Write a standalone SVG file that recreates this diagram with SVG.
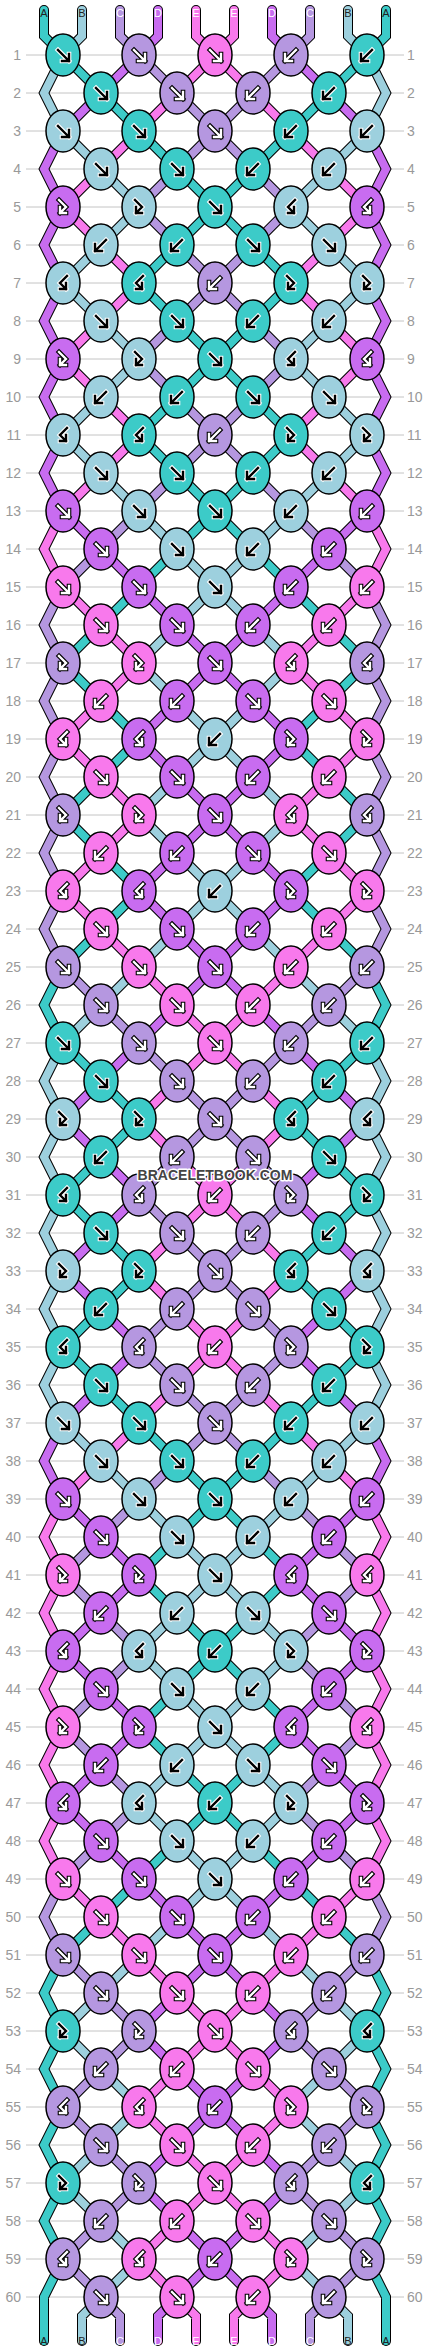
<svg xmlns="http://www.w3.org/2000/svg" width="430" height="2352" viewBox="0 0 430 2352">
<style>
.A{fill:#3ccbc8}.B{fill:#9dd0de}.C{fill:#b597e0}.D{fill:#c86cf0}.E{fill:#f879ec}
ellipse{stroke:#000;stroke-width:1.5}
.ar{fill:none;stroke-linecap:square;stroke-linejoin:miter}
.ow{stroke:#fff;stroke-width:4.6}.ik{stroke:#000;stroke-width:2.4}
.ok{stroke:#000;stroke-width:4.6}.iw{stroke:#fff;stroke-width:2.4}
.grid{stroke:#c4c4c4;stroke-width:1;fill:none}
.num{font-family:"Liberation Sans",Arial,sans-serif;font-size:14px;fill:#999}
.lab{font-family:"Liberation Sans",Arial,sans-serif;font-size:11px;text-anchor:middle}
.st{fill:none;stroke-linejoin:miter;stroke-linecap:round}
</style>
<defs>
<path id="sA" d="M44 10V36L63 55L101 93L139 131L177 169L215 207L177 245L139 283L177 321L215 359L177 397L139 435L177 473L215 511L177 549L139 587L101 625L63 663L101 701L139 739L101 777L63 815L101 853L139 891L101 929L63 967L44 1005L63 1043L101 1081L139 1119L101 1157L63 1195L101 1233L139 1271L101 1309L63 1347L101 1385L139 1423L177 1461L215 1499L177 1537L139 1575L177 1613L215 1651L177 1689L139 1727L177 1765L215 1803L177 1841L139 1879L101 1917L63 1955L44 1993L63 2031L44 2069L63 2107L44 2145L63 2183L44 2221L63 2259L44 2297V2341"/>
<path id="sB" d="M82 10V36L63 55L44 93L63 131L101 169L139 207L101 245L63 283L101 321L139 359L101 397L63 435L101 473L139 511L177 549L215 587L177 625L139 663L177 701L215 739L177 777L139 815L177 853L215 891L177 929L139 967L101 1005L63 1043L44 1081L63 1119L44 1157L63 1195L44 1233L63 1271L44 1309L63 1347L44 1385L63 1423L101 1461L139 1499L177 1537L215 1575L177 1613L139 1651L177 1689L215 1727L177 1765L139 1803L177 1841L215 1879L177 1917L139 1955L101 1993L63 2031L101 2069L139 2107L101 2145L63 2183L101 2221L139 2259L101 2297L82 2316V2341"/>
<path id="sC" d="M120 10V36L139 55L177 93L215 131L177 169L139 207L177 245L215 283L177 321L139 359L177 397L215 435L177 473L139 511L101 549L63 587L44 625L63 663L44 701L63 739L44 777L63 815L44 853L63 891L44 929L63 967L101 1005L139 1043L177 1081L215 1119L177 1157L139 1195L177 1233L215 1271L177 1309L139 1347L177 1385L215 1423L177 1461L139 1499L101 1537L63 1575L101 1613L139 1651L101 1689L63 1727L101 1765L139 1803L101 1841L63 1879L44 1917L63 1955L101 1993L139 2031L101 2069L63 2107L101 2145L139 2183L101 2221L63 2259L101 2297L120 2316V2341"/>
<path id="sD" d="M158 10V36L139 55L101 93L63 131L44 169L63 207L44 245L63 283L44 321L63 359L44 397L63 435L44 473L63 511L101 549L139 587L177 625L215 663L177 701L139 739L177 777L215 815L177 853L139 891L177 929L215 967L177 1005L139 1043L101 1081L63 1119L101 1157L139 1195L101 1233L63 1271L101 1309L139 1347L101 1385L63 1423L44 1461L63 1499L101 1537L139 1575L101 1613L63 1651L101 1689L139 1727L101 1765L63 1803L101 1841L139 1879L177 1917L215 1955L177 1993L139 2031L177 2069L215 2107L177 2145L139 2183L177 2221L215 2259L177 2297L158 2316V2341"/>
<path id="sE" d="M196 10V36L215 55L177 93L139 131L101 169L63 207L101 245L139 283L101 321L63 359L101 397L139 435L101 473L63 511L44 549L63 587L101 625L139 663L101 701L63 739L101 777L139 815L101 853L63 891L101 929L139 967L177 1005L215 1043L177 1081L139 1119L177 1157L215 1195L177 1233L139 1271L177 1309L215 1347L177 1385L139 1423L101 1461L63 1499L44 1537L63 1575L44 1613L63 1651L44 1689L63 1727L44 1765L63 1803L44 1841L63 1879L101 1917L139 1955L177 1993L215 2031L177 2069L139 2107L177 2145L215 2183L177 2221L139 2259L177 2297L196 2316V2341"/>
<path id="pf" class="ar" d="M-5-5L6 6M6-1V6H-1"/>
<path id="pb" class="ar" d="M5-5L-6 6M-6-1V6H1"/>
<path id="pfb" class="ar" d="M-4-7L3 0L-3 6M-3 0V6H3"/>
<path id="pbf" class="ar" d="M4-7L-3 0L3 6M3 0V6H-3"/>
<g id="df"><use href="#pf" class="ow"/><use href="#pf" class="ik"/></g>
<g id="db"><use href="#pb" class="ow"/><use href="#pb" class="ik"/></g>
<g id="dfb"><use href="#pfb" class="ow"/><use href="#pfb" class="ik"/></g>
<g id="dbf"><use href="#pbf" class="ow"/><use href="#pbf" class="ik"/></g>
<g id="wf"><use href="#pf" class="ok"/><use href="#pf" class="iw"/></g>
<g id="wb"><use href="#pb" class="ok"/><use href="#pb" class="iw"/></g>
<g id="wfb"><use href="#pfb" class="ok"/><use href="#pfb" class="iw"/></g>
<g id="wbf"><use href="#pbf" class="ok"/><use href="#pbf" class="iw"/></g>
<g id="Af"><ellipse class="A" rx="17" ry="21"/><use href="#df"/></g>
<g id="Ab"><ellipse class="A" rx="17" ry="21"/><use href="#db"/></g>
<g id="Afb"><ellipse class="A" rx="17" ry="21"/><use href="#dfb"/></g>
<g id="Abf"><ellipse class="A" rx="17" ry="21"/><use href="#dbf"/></g>
<g id="Bf"><ellipse class="B" rx="17" ry="21"/><use href="#df"/></g>
<g id="Bb"><ellipse class="B" rx="17" ry="21"/><use href="#db"/></g>
<g id="Bfb"><ellipse class="B" rx="17" ry="21"/><use href="#dfb"/></g>
<g id="Bbf"><ellipse class="B" rx="17" ry="21"/><use href="#dbf"/></g>
<g id="Cf"><ellipse class="C" rx="17" ry="21"/><use href="#wf"/></g>
<g id="Cb"><ellipse class="C" rx="17" ry="21"/><use href="#wb"/></g>
<g id="Cfb"><ellipse class="C" rx="17" ry="21"/><use href="#wfb"/></g>
<g id="Cbf"><ellipse class="C" rx="17" ry="21"/><use href="#wbf"/></g>
<g id="Df"><ellipse class="D" rx="17" ry="21"/><use href="#wf"/></g>
<g id="Db"><ellipse class="D" rx="17" ry="21"/><use href="#wb"/></g>
<g id="Dfb"><ellipse class="D" rx="17" ry="21"/><use href="#wfb"/></g>
<g id="Dbf"><ellipse class="D" rx="17" ry="21"/><use href="#wbf"/></g>
<g id="Ef"><ellipse class="E" rx="17" ry="21"/><use href="#wf"/></g>
<g id="Eb"><ellipse class="E" rx="17" ry="21"/><use href="#wb"/></g>
<g id="Efb"><ellipse class="E" rx="17" ry="21"/><use href="#wfb"/></g>
<g id="Ebf"><ellipse class="E" rx="17" ry="21"/><use href="#wbf"/></g>
</defs>
<rect width="430" height="2352" fill="#fff"/>
<path class="grid" d="M26 55H404M26 93H404M26 131H404M26 169H404M26 207H404M26 245H404M26 283H404M26 321H404M26 359H404M26 397H404M26 435H404M26 473H404M26 511H404M26 549H404M26 587H404M26 625H404M26 663H404M26 701H404M26 739H404M26 777H404M26 815H404M26 853H404M26 891H404M26 929H404M26 967H404M26 1005H404M26 1043H404M26 1081H404M26 1119H404M26 1157H404M26 1195H404M26 1233H404M26 1271H404M26 1309H404M26 1347H404M26 1385H404M26 1423H404M26 1461H404M26 1499H404M26 1537H404M26 1575H404M26 1613H404M26 1651H404M26 1689H404M26 1727H404M26 1765H404M26 1803H404M26 1841H404M26 1879H404M26 1917H404M26 1955H404M26 1993H404M26 2031H404M26 2069H404M26 2107H404M26 2145H404M26 2183H404M26 2221H404M26 2259H404M26 2297H404"/>
<g class="num" text-anchor="end">
<text x="21" y="60">1</text><text x="21" y="98">2</text><text x="21" y="136">3</text><text x="21" y="174">4</text><text x="21" y="212">5</text><text x="21" y="250">6</text><text x="21" y="288">7</text><text x="21" y="326">8</text><text x="21" y="364">9</text><text x="21" y="402">10</text><text x="21" y="440">11</text><text x="21" y="478">12</text><text x="21" y="516">13</text><text x="21" y="554">14</text><text x="21" y="592">15</text><text x="21" y="630">16</text><text x="21" y="668">17</text><text x="21" y="706">18</text><text x="21" y="744">19</text><text x="21" y="782">20</text><text x="21" y="820">21</text><text x="21" y="858">22</text><text x="21" y="896">23</text><text x="21" y="934">24</text><text x="21" y="972">25</text><text x="21" y="1010">26</text><text x="21" y="1048">27</text><text x="21" y="1086">28</text><text x="21" y="1124">29</text><text x="21" y="1162">30</text><text x="21" y="1200">31</text><text x="21" y="1238">32</text><text x="21" y="1276">33</text><text x="21" y="1314">34</text><text x="21" y="1352">35</text><text x="21" y="1390">36</text><text x="21" y="1428">37</text><text x="21" y="1466">38</text><text x="21" y="1504">39</text><text x="21" y="1542">40</text><text x="21" y="1580">41</text><text x="21" y="1618">42</text><text x="21" y="1656">43</text><text x="21" y="1694">44</text><text x="21" y="1732">45</text><text x="21" y="1770">46</text><text x="21" y="1808">47</text><text x="21" y="1846">48</text><text x="21" y="1884">49</text><text x="21" y="1922">50</text><text x="21" y="1960">51</text><text x="21" y="1998">52</text><text x="21" y="2036">53</text><text x="21" y="2074">54</text><text x="21" y="2112">55</text><text x="21" y="2150">56</text><text x="21" y="2188">57</text><text x="21" y="2226">58</text><text x="21" y="2264">59</text><text x="21" y="2302">60</text>
</g>
<g class="num" text-anchor="start">
<text x="407" y="60">1</text><text x="407" y="98">2</text><text x="407" y="136">3</text><text x="407" y="174">4</text><text x="407" y="212">5</text><text x="407" y="250">6</text><text x="407" y="288">7</text><text x="407" y="326">8</text><text x="407" y="364">9</text><text x="407" y="402">10</text><text x="407" y="440">11</text><text x="407" y="478">12</text><text x="407" y="516">13</text><text x="407" y="554">14</text><text x="407" y="592">15</text><text x="407" y="630">16</text><text x="407" y="668">17</text><text x="407" y="706">18</text><text x="407" y="744">19</text><text x="407" y="782">20</text><text x="407" y="820">21</text><text x="407" y="858">22</text><text x="407" y="896">23</text><text x="407" y="934">24</text><text x="407" y="972">25</text><text x="407" y="1010">26</text><text x="407" y="1048">27</text><text x="407" y="1086">28</text><text x="407" y="1124">29</text><text x="407" y="1162">30</text><text x="407" y="1200">31</text><text x="407" y="1238">32</text><text x="407" y="1276">33</text><text x="407" y="1314">34</text><text x="407" y="1352">35</text><text x="407" y="1390">36</text><text x="407" y="1428">37</text><text x="407" y="1466">38</text><text x="407" y="1504">39</text><text x="407" y="1542">40</text><text x="407" y="1580">41</text><text x="407" y="1618">42</text><text x="407" y="1656">43</text><text x="407" y="1694">44</text><text x="407" y="1732">45</text><text x="407" y="1770">46</text><text x="407" y="1808">47</text><text x="407" y="1846">48</text><text x="407" y="1884">49</text><text x="407" y="1922">50</text><text x="407" y="1960">51</text><text x="407" y="1998">52</text><text x="407" y="2036">53</text><text x="407" y="2074">54</text><text x="407" y="2112">55</text><text x="407" y="2150">56</text><text x="407" y="2188">57</text><text x="407" y="2226">58</text><text x="407" y="2264">59</text><text x="407" y="2302">60</text>
</g>
<g id="connectors" class="st">
<g stroke="#000" stroke-width="10">
<use href="#sA"/><use href="#sB"/><use href="#sC"/><use href="#sD"/><use href="#sE"/>
<g transform="matrix(-1 0 0 1 430 0)"><use href="#sA"/><use href="#sB"/><use href="#sC"/><use href="#sD"/><use href="#sE"/></g>
</g>
<g stroke-width="8">
<use href="#sA" stroke="#3ccbc8"/><use href="#sB" stroke="#9dd0de"/><use href="#sC" stroke="#b597e0"/><use href="#sD" stroke="#c86cf0"/><use href="#sE" stroke="#f879ec"/>
<g transform="matrix(-1 0 0 1 430 0)"><use href="#sA" stroke="#3ccbc8"/><use href="#sB" stroke="#9dd0de"/><use href="#sC" stroke="#b597e0"/><use href="#sD" stroke="#c86cf0"/><use href="#sE" stroke="#f879ec"/></g>
</g>
</g>
<g class="lab">
<text x="44" y="17" fill="#222">A</text><text x="82" y="17" fill="#222">B</text><text x="120" y="17" fill="#fff">C</text><text x="158" y="17" fill="#fff">D</text><text x="196" y="17" fill="#fff">E</text><text x="234" y="17" fill="#fff">E</text><text x="272" y="17" fill="#fff">D</text><text x="310" y="17" fill="#fff">C</text><text x="348" y="17" fill="#222">B</text><text x="386" y="17" fill="#222">A</text>
<text x="44" y="2345" fill="#222">A</text><text x="82" y="2345" fill="#222">B</text><text x="120" y="2345" fill="#fff">C</text><text x="158" y="2345" fill="#fff">D</text><text x="196" y="2345" fill="#fff">E</text><text x="234" y="2345" fill="#fff">E</text><text x="272" y="2345" fill="#fff">D</text><text x="310" y="2345" fill="#fff">C</text><text x="348" y="2345" fill="#222">B</text><text x="386" y="2345" fill="#222">A</text>
</g>
<g id="knots">
<g id="n1-1"><use href="#Af" x="63" y="55"/></g><g id="n1-2"><use href="#Cf" x="139" y="55"/></g><g id="n1-3"><use href="#Ef" x="215" y="55"/></g><g id="n1-4"><use href="#Cb" x="291" y="55"/></g><g id="n1-5"><use href="#Ab" x="367" y="55"/></g>
<g id="n2-1"><use href="#Af" x="101" y="93"/></g><g id="n2-2"><use href="#Cf" x="177" y="93"/></g><g id="n2-3"><use href="#Cb" x="253" y="93"/></g><g id="n2-4"><use href="#Ab" x="329" y="93"/></g>
<g id="n3-1"><use href="#Bf" x="63" y="131"/></g><g id="n3-2"><use href="#Af" x="139" y="131"/></g><g id="n3-3"><use href="#Cf" x="215" y="131"/></g><g id="n3-4"><use href="#Ab" x="291" y="131"/></g><g id="n3-5"><use href="#Bb" x="367" y="131"/></g>
<g id="n4-1"><use href="#Bf" x="101" y="169"/></g><g id="n4-2"><use href="#Af" x="177" y="169"/></g><g id="n4-3"><use href="#Ab" x="253" y="169"/></g><g id="n4-4"><use href="#Bb" x="329" y="169"/></g>
<g id="n5-1"><use href="#Dfb" x="63" y="207"/></g><g id="n5-2"><use href="#Bfb" x="139" y="207"/></g><g id="n5-3"><use href="#Af" x="215" y="207"/></g><g id="n5-4"><use href="#Bbf" x="291" y="207"/></g><g id="n5-5"><use href="#Dbf" x="367" y="207"/></g>
<g id="n6-1"><use href="#Bb" x="101" y="245"/></g><g id="n6-2"><use href="#Ab" x="177" y="245"/></g><g id="n6-3"><use href="#Af" x="253" y="245"/></g><g id="n6-4"><use href="#Bf" x="329" y="245"/></g>
<g id="n7-1"><use href="#Bbf" x="63" y="283"/></g><g id="n7-2"><use href="#Abf" x="139" y="283"/></g><g id="n7-3"><use href="#Cb" x="215" y="283"/></g><g id="n7-4"><use href="#Afb" x="291" y="283"/></g><g id="n7-5"><use href="#Bfb" x="367" y="283"/></g>
<g id="n8-1"><use href="#Bf" x="101" y="321"/></g><g id="n8-2"><use href="#Af" x="177" y="321"/></g><g id="n8-3"><use href="#Ab" x="253" y="321"/></g><g id="n8-4"><use href="#Bb" x="329" y="321"/></g>
<g id="n9-1"><use href="#Dfb" x="63" y="359"/></g><g id="n9-2"><use href="#Bfb" x="139" y="359"/></g><g id="n9-3"><use href="#Af" x="215" y="359"/></g><g id="n9-4"><use href="#Bbf" x="291" y="359"/></g><g id="n9-5"><use href="#Dbf" x="367" y="359"/></g>
<g id="n10-1"><use href="#Bb" x="101" y="397"/></g><g id="n10-2"><use href="#Ab" x="177" y="397"/></g><g id="n10-3"><use href="#Af" x="253" y="397"/></g><g id="n10-4"><use href="#Bf" x="329" y="397"/></g>
<g id="n11-1"><use href="#Bbf" x="63" y="435"/></g><g id="n11-2"><use href="#Abf" x="139" y="435"/></g><g id="n11-3"><use href="#Cb" x="215" y="435"/></g><g id="n11-4"><use href="#Afb" x="291" y="435"/></g><g id="n11-5"><use href="#Bfb" x="367" y="435"/></g>
<g id="n12-1"><use href="#Bf" x="101" y="473"/></g><g id="n12-2"><use href="#Af" x="177" y="473"/></g><g id="n12-3"><use href="#Ab" x="253" y="473"/></g><g id="n12-4"><use href="#Bb" x="329" y="473"/></g>
<g id="n13-1"><use href="#Df" x="63" y="511"/></g><g id="n13-2"><use href="#Bf" x="139" y="511"/></g><g id="n13-3"><use href="#Af" x="215" y="511"/></g><g id="n13-4"><use href="#Bb" x="291" y="511"/></g><g id="n13-5"><use href="#Db" x="367" y="511"/></g>
<g id="n14-1"><use href="#Df" x="101" y="549"/></g><g id="n14-2"><use href="#Bf" x="177" y="549"/></g><g id="n14-3"><use href="#Bb" x="253" y="549"/></g><g id="n14-4"><use href="#Db" x="329" y="549"/></g>
<g id="n15-1"><use href="#Ef" x="63" y="587"/></g><g id="n15-2"><use href="#Df" x="139" y="587"/></g><g id="n15-3"><use href="#Bf" x="215" y="587"/></g><g id="n15-4"><use href="#Db" x="291" y="587"/></g><g id="n15-5"><use href="#Eb" x="367" y="587"/></g>
<g id="n16-1"><use href="#Ef" x="101" y="625"/></g><g id="n16-2"><use href="#Df" x="177" y="625"/></g><g id="n16-3"><use href="#Db" x="253" y="625"/></g><g id="n16-4"><use href="#Eb" x="329" y="625"/></g>
<g id="n17-1"><use href="#Cfb" x="63" y="663"/></g><g id="n17-2"><use href="#Efb" x="139" y="663"/></g><g id="n17-3"><use href="#Df" x="215" y="663"/></g><g id="n17-4"><use href="#Ebf" x="291" y="663"/></g><g id="n17-5"><use href="#Cbf" x="367" y="663"/></g>
<g id="n18-1"><use href="#Eb" x="101" y="701"/></g><g id="n18-2"><use href="#Db" x="177" y="701"/></g><g id="n18-3"><use href="#Df" x="253" y="701"/></g><g id="n18-4"><use href="#Ef" x="329" y="701"/></g>
<g id="n19-1"><use href="#Ebf" x="63" y="739"/></g><g id="n19-2"><use href="#Dbf" x="139" y="739"/></g><g id="n19-3"><use href="#Bb" x="215" y="739"/></g><g id="n19-4"><use href="#Dfb" x="291" y="739"/></g><g id="n19-5"><use href="#Efb" x="367" y="739"/></g>
<g id="n20-1"><use href="#Ef" x="101" y="777"/></g><g id="n20-2"><use href="#Df" x="177" y="777"/></g><g id="n20-3"><use href="#Db" x="253" y="777"/></g><g id="n20-4"><use href="#Eb" x="329" y="777"/></g>
<g id="n21-1"><use href="#Cfb" x="63" y="815"/></g><g id="n21-2"><use href="#Efb" x="139" y="815"/></g><g id="n21-3"><use href="#Df" x="215" y="815"/></g><g id="n21-4"><use href="#Ebf" x="291" y="815"/></g><g id="n21-5"><use href="#Cbf" x="367" y="815"/></g>
<g id="n22-1"><use href="#Eb" x="101" y="853"/></g><g id="n22-2"><use href="#Db" x="177" y="853"/></g><g id="n22-3"><use href="#Df" x="253" y="853"/></g><g id="n22-4"><use href="#Ef" x="329" y="853"/></g>
<g id="n23-1"><use href="#Ebf" x="63" y="891"/></g><g id="n23-2"><use href="#Dbf" x="139" y="891"/></g><g id="n23-3"><use href="#Bb" x="215" y="891"/></g><g id="n23-4"><use href="#Dfb" x="291" y="891"/></g><g id="n23-5"><use href="#Efb" x="367" y="891"/></g>
<g id="n24-1"><use href="#Ef" x="101" y="929"/></g><g id="n24-2"><use href="#Df" x="177" y="929"/></g><g id="n24-3"><use href="#Db" x="253" y="929"/></g><g id="n24-4"><use href="#Eb" x="329" y="929"/></g>
<g id="n25-1"><use href="#Cf" x="63" y="967"/></g><g id="n25-2"><use href="#Ef" x="139" y="967"/></g><g id="n25-3"><use href="#Df" x="215" y="967"/></g><g id="n25-4"><use href="#Eb" x="291" y="967"/></g><g id="n25-5"><use href="#Cb" x="367" y="967"/></g>
<g id="n26-1"><use href="#Cf" x="101" y="1005"/></g><g id="n26-2"><use href="#Ef" x="177" y="1005"/></g><g id="n26-3"><use href="#Eb" x="253" y="1005"/></g><g id="n26-4"><use href="#Cb" x="329" y="1005"/></g>
<g id="n27-1"><use href="#Af" x="63" y="1043"/></g><g id="n27-2"><use href="#Cf" x="139" y="1043"/></g><g id="n27-3"><use href="#Ef" x="215" y="1043"/></g><g id="n27-4"><use href="#Cb" x="291" y="1043"/></g><g id="n27-5"><use href="#Ab" x="367" y="1043"/></g>
<g id="n28-1"><use href="#Af" x="101" y="1081"/></g><g id="n28-2"><use href="#Cf" x="177" y="1081"/></g><g id="n28-3"><use href="#Cb" x="253" y="1081"/></g><g id="n28-4"><use href="#Ab" x="329" y="1081"/></g>
<g id="n29-1"><use href="#Bfb" x="63" y="1119"/></g><g id="n29-2"><use href="#Afb" x="139" y="1119"/></g><g id="n29-3"><use href="#Cf" x="215" y="1119"/></g><g id="n29-4"><use href="#Abf" x="291" y="1119"/></g><g id="n29-5"><use href="#Bbf" x="367" y="1119"/></g>
<g id="n30-1"><use href="#Ab" x="101" y="1157"/></g><g id="n30-2"><use href="#Cb" x="177" y="1157"/></g><g id="n30-3"><use href="#Cf" x="253" y="1157"/></g><g id="n30-4"><use href="#Af" x="329" y="1157"/></g>
<g id="n31-1"><use href="#Abf" x="63" y="1195"/></g><g id="n31-2"><use href="#Cbf" x="139" y="1195"/></g><g id="n31-3"><use href="#Eb" x="215" y="1195"/></g><g id="n31-4"><use href="#Cfb" x="291" y="1195"/></g><g id="n31-5"><use href="#Afb" x="367" y="1195"/></g>
<g id="n32-1"><use href="#Af" x="101" y="1233"/></g><g id="n32-2"><use href="#Cf" x="177" y="1233"/></g><g id="n32-3"><use href="#Cb" x="253" y="1233"/></g><g id="n32-4"><use href="#Ab" x="329" y="1233"/></g>
<g id="n33-1"><use href="#Bfb" x="63" y="1271"/></g><g id="n33-2"><use href="#Afb" x="139" y="1271"/></g><g id="n33-3"><use href="#Cf" x="215" y="1271"/></g><g id="n33-4"><use href="#Abf" x="291" y="1271"/></g><g id="n33-5"><use href="#Bbf" x="367" y="1271"/></g>
<g id="n34-1"><use href="#Ab" x="101" y="1309"/></g><g id="n34-2"><use href="#Cb" x="177" y="1309"/></g><g id="n34-3"><use href="#Cf" x="253" y="1309"/></g><g id="n34-4"><use href="#Af" x="329" y="1309"/></g>
<g id="n35-1"><use href="#Abf" x="63" y="1347"/></g><g id="n35-2"><use href="#Cbf" x="139" y="1347"/></g><g id="n35-3"><use href="#Eb" x="215" y="1347"/></g><g id="n35-4"><use href="#Cfb" x="291" y="1347"/></g><g id="n35-5"><use href="#Afb" x="367" y="1347"/></g>
<g id="n36-1"><use href="#Af" x="101" y="1385"/></g><g id="n36-2"><use href="#Cf" x="177" y="1385"/></g><g id="n36-3"><use href="#Cb" x="253" y="1385"/></g><g id="n36-4"><use href="#Ab" x="329" y="1385"/></g>
<g id="n37-1"><use href="#Bf" x="63" y="1423"/></g><g id="n37-2"><use href="#Af" x="139" y="1423"/></g><g id="n37-3"><use href="#Cf" x="215" y="1423"/></g><g id="n37-4"><use href="#Ab" x="291" y="1423"/></g><g id="n37-5"><use href="#Bb" x="367" y="1423"/></g>
<g id="n38-1"><use href="#Bf" x="101" y="1461"/></g><g id="n38-2"><use href="#Af" x="177" y="1461"/></g><g id="n38-3"><use href="#Ab" x="253" y="1461"/></g><g id="n38-4"><use href="#Bb" x="329" y="1461"/></g>
<g id="n39-1"><use href="#Df" x="63" y="1499"/></g><g id="n39-2"><use href="#Bf" x="139" y="1499"/></g><g id="n39-3"><use href="#Af" x="215" y="1499"/></g><g id="n39-4"><use href="#Bb" x="291" y="1499"/></g><g id="n39-5"><use href="#Db" x="367" y="1499"/></g>
<g id="n40-1"><use href="#Df" x="101" y="1537"/></g><g id="n40-2"><use href="#Bf" x="177" y="1537"/></g><g id="n40-3"><use href="#Bb" x="253" y="1537"/></g><g id="n40-4"><use href="#Db" x="329" y="1537"/></g>
<g id="n41-1"><use href="#Efb" x="63" y="1575"/></g><g id="n41-2"><use href="#Dfb" x="139" y="1575"/></g><g id="n41-3"><use href="#Bf" x="215" y="1575"/></g><g id="n41-4"><use href="#Dbf" x="291" y="1575"/></g><g id="n41-5"><use href="#Ebf" x="367" y="1575"/></g>
<g id="n42-1"><use href="#Db" x="101" y="1613"/></g><g id="n42-2"><use href="#Bb" x="177" y="1613"/></g><g id="n42-3"><use href="#Bf" x="253" y="1613"/></g><g id="n42-4"><use href="#Df" x="329" y="1613"/></g>
<g id="n43-1"><use href="#Dbf" x="63" y="1651"/></g><g id="n43-2"><use href="#Bbf" x="139" y="1651"/></g><g id="n43-3"><use href="#Ab" x="215" y="1651"/></g><g id="n43-4"><use href="#Bfb" x="291" y="1651"/></g><g id="n43-5"><use href="#Dfb" x="367" y="1651"/></g>
<g id="n44-1"><use href="#Df" x="101" y="1689"/></g><g id="n44-2"><use href="#Bf" x="177" y="1689"/></g><g id="n44-3"><use href="#Bb" x="253" y="1689"/></g><g id="n44-4"><use href="#Db" x="329" y="1689"/></g>
<g id="n45-1"><use href="#Efb" x="63" y="1727"/></g><g id="n45-2"><use href="#Dfb" x="139" y="1727"/></g><g id="n45-3"><use href="#Bf" x="215" y="1727"/></g><g id="n45-4"><use href="#Dbf" x="291" y="1727"/></g><g id="n45-5"><use href="#Ebf" x="367" y="1727"/></g>
<g id="n46-1"><use href="#Db" x="101" y="1765"/></g><g id="n46-2"><use href="#Bb" x="177" y="1765"/></g><g id="n46-3"><use href="#Bf" x="253" y="1765"/></g><g id="n46-4"><use href="#Df" x="329" y="1765"/></g>
<g id="n47-1"><use href="#Dbf" x="63" y="1803"/></g><g id="n47-2"><use href="#Bbf" x="139" y="1803"/></g><g id="n47-3"><use href="#Ab" x="215" y="1803"/></g><g id="n47-4"><use href="#Bfb" x="291" y="1803"/></g><g id="n47-5"><use href="#Dfb" x="367" y="1803"/></g>
<g id="n48-1"><use href="#Df" x="101" y="1841"/></g><g id="n48-2"><use href="#Bf" x="177" y="1841"/></g><g id="n48-3"><use href="#Bb" x="253" y="1841"/></g><g id="n48-4"><use href="#Db" x="329" y="1841"/></g>
<g id="n49-1"><use href="#Ef" x="63" y="1879"/></g><g id="n49-2"><use href="#Df" x="139" y="1879"/></g><g id="n49-3"><use href="#Bf" x="215" y="1879"/></g><g id="n49-4"><use href="#Db" x="291" y="1879"/></g><g id="n49-5"><use href="#Eb" x="367" y="1879"/></g>
<g id="n50-1"><use href="#Ef" x="101" y="1917"/></g><g id="n50-2"><use href="#Df" x="177" y="1917"/></g><g id="n50-3"><use href="#Db" x="253" y="1917"/></g><g id="n50-4"><use href="#Eb" x="329" y="1917"/></g>
<g id="n51-1"><use href="#Cf" x="63" y="1955"/></g><g id="n51-2"><use href="#Ef" x="139" y="1955"/></g><g id="n51-3"><use href="#Df" x="215" y="1955"/></g><g id="n51-4"><use href="#Eb" x="291" y="1955"/></g><g id="n51-5"><use href="#Cb" x="367" y="1955"/></g>
<g id="n52-1"><use href="#Cf" x="101" y="1993"/></g><g id="n52-2"><use href="#Ef" x="177" y="1993"/></g><g id="n52-3"><use href="#Eb" x="253" y="1993"/></g><g id="n52-4"><use href="#Cb" x="329" y="1993"/></g>
<g id="n53-1"><use href="#Afb" x="63" y="2031"/></g><g id="n53-2"><use href="#Cfb" x="139" y="2031"/></g><g id="n53-3"><use href="#Ef" x="215" y="2031"/></g><g id="n53-4"><use href="#Cbf" x="291" y="2031"/></g><g id="n53-5"><use href="#Abf" x="367" y="2031"/></g>
<g id="n54-1"><use href="#Cb" x="101" y="2069"/></g><g id="n54-2"><use href="#Eb" x="177" y="2069"/></g><g id="n54-3"><use href="#Ef" x="253" y="2069"/></g><g id="n54-4"><use href="#Cf" x="329" y="2069"/></g>
<g id="n55-1"><use href="#Cbf" x="63" y="2107"/></g><g id="n55-2"><use href="#Ebf" x="139" y="2107"/></g><g id="n55-3"><use href="#Db" x="215" y="2107"/></g><g id="n55-4"><use href="#Efb" x="291" y="2107"/></g><g id="n55-5"><use href="#Cfb" x="367" y="2107"/></g>
<g id="n56-1"><use href="#Cf" x="101" y="2145"/></g><g id="n56-2"><use href="#Ef" x="177" y="2145"/></g><g id="n56-3"><use href="#Eb" x="253" y="2145"/></g><g id="n56-4"><use href="#Cb" x="329" y="2145"/></g>
<g id="n57-1"><use href="#Afb" x="63" y="2183"/></g><g id="n57-2"><use href="#Cfb" x="139" y="2183"/></g><g id="n57-3"><use href="#Ef" x="215" y="2183"/></g><g id="n57-4"><use href="#Cbf" x="291" y="2183"/></g><g id="n57-5"><use href="#Abf" x="367" y="2183"/></g>
<g id="n58-1"><use href="#Cb" x="101" y="2221"/></g><g id="n58-2"><use href="#Eb" x="177" y="2221"/></g><g id="n58-3"><use href="#Ef" x="253" y="2221"/></g><g id="n58-4"><use href="#Cf" x="329" y="2221"/></g>
<g id="n59-1"><use href="#Cbf" x="63" y="2259"/></g><g id="n59-2"><use href="#Ebf" x="139" y="2259"/></g><g id="n59-3"><use href="#Db" x="215" y="2259"/></g><g id="n59-4"><use href="#Efb" x="291" y="2259"/></g><g id="n59-5"><use href="#Cfb" x="367" y="2259"/></g>
<g id="n60-1"><use href="#Cf" x="101" y="2297"/></g><g id="n60-2"><use href="#Ef" x="177" y="2297"/></g><g id="n60-3"><use href="#Eb" x="253" y="2297"/></g><g id="n60-4"><use href="#Cb" x="329" y="2297"/></g>
</g>
<text x="215" y="1180" text-anchor="middle" font-family="Liberation Sans, Arial, sans-serif" font-weight="bold" font-size="14" fill="#444" stroke="#fff" stroke-width="3" stroke-linejoin="round" paint-order="stroke">BRACELETBOOK.COM</text>
</svg>
